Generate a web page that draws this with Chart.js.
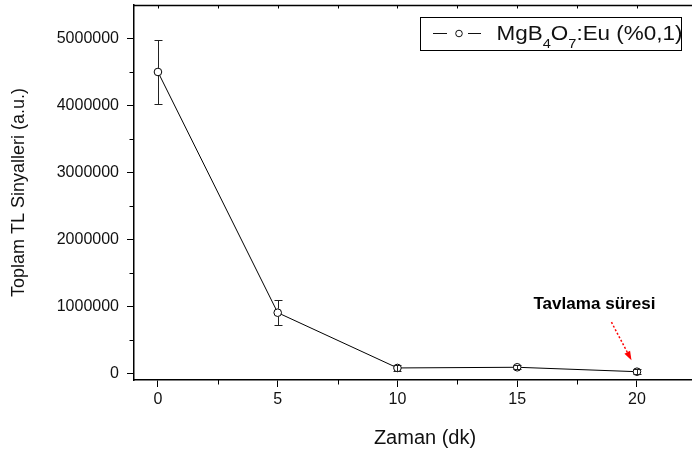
<!DOCTYPE html>
<html>
<head>
<meta charset="utf-8">
<script src="https://cdn.jsdelivr.net/npm/chart.js@4.4.1/dist/chart.umd.min.js"></script>
<style>
  html, body { margin: 0; padding: 0; background: #fff; overflow: hidden; }
  #wrap { width: 692px; height: 452px; overflow: hidden; position: relative; }
  canvas { display: block; }
</style>
</head>
<body>
<div id="wrap"><canvas id="chart" width="721" height="452"></canvas></div>
<script>
// Annealing time (min) vs. total TL signal
const times      = [0, 5, 10, 15, 20];
const signal     = [4500000, 905000, 80000, 90000, 24000];
const signalErr  = [475000, 188000, 40000, 30000, 35000];

const xTicks      = [0, 5, 10, 15, 20];
const xMinorTicks = [2.5, 7.5, 12.5, 17.5, 22.5];
const yTicks      = [0, 1000000, 2000000, 3000000, 4000000, 5000000];
const yMinorTicks = [500000, 1500000, 2500000, 3500000, 4500000];

const seriesLabelParts = [
  { text: 'MgB' }, { text: '4', sub: true }, { text: 'O' }, { text: '7', sub: true }, { text: ':Eu (%0,1)' }
];
const noteText = 'Tavlama süresi';

const FONT = '"Liberation Sans", Arial, Helvetica, sans-serif';
const INK = '#111';

// Minor ticks, top frame line and its inward ticks
const framePlugin = {
  id: 'frame',
  afterDraw(chart) {
    const { ctx, chartArea: a, scales: { x, y } } = chart;
    ctx.save();
    ctx.strokeStyle = '#000';
    ctx.lineWidth = 1;
    ctx.beginPath();
    xMinorTicks.forEach(v => {
      const px = Math.round(x.getPixelForValue(v)) + 0.5;
      ctx.moveTo(px, a.bottom); ctx.lineTo(px, a.bottom + 4.5);
    });
    yMinorTicks.forEach(v => {
      const py = Math.round(y.getPixelForValue(v)) + 0.5;
      ctx.moveTo(a.left - 4.5, py); ctx.lineTo(a.left, py);
    });
    xTicks.concat(xMinorTicks).forEach(v => {
      const px = Math.round(x.getPixelForValue(v)) + 0.5;
      ctx.moveTo(px, a.top); ctx.lineTo(px, a.top + 3.5);
    });
    ctx.stroke();
    ctx.lineWidth = 1.5;
    ctx.beginPath();
    ctx.moveTo(a.left - 0.75, a.top + 0.5);
    ctx.lineTo(a.right, a.top + 0.5);
    ctx.stroke();
    ctx.restore();
  }
};

// Vertical error bars with caps
const errorBarPlugin = {
  id: 'errorBars',
  afterDatasetsDraw(chart) {
    const { ctx, scales: { x, y } } = chart;
    const r = 4, cap = 4;
    ctx.save();
    ctx.strokeStyle = '#222';
    ctx.lineWidth = 1;
    times.forEach((t, i) => {
      const px = Math.round(x.getPixelForValue(t)) + 0.5;
      const pc = y.getPixelForValue(signal[i]);
      const pTop = Math.round(y.getPixelForValue(signal[i] + signalErr[i])) + 0.5;
      const pBot = Math.round(y.getPixelForValue(signal[i] - signalErr[i])) + 0.5;
      ctx.beginPath();
      if (pc - pTop > r) {
        ctx.moveTo(px, pc - r); ctx.lineTo(px, pTop);
        ctx.moveTo(px, pc + r); ctx.lineTo(px, pBot);
      } else {
        ctx.moveTo(px, pTop); ctx.lineTo(px, pBot);
      }
      ctx.moveTo(px - cap, pTop); ctx.lineTo(px + cap, pTop);
      ctx.moveTo(px - cap, pBot); ctx.lineTo(px + cap, pBot);
      ctx.stroke();
    });
    ctx.restore();
  }
};

// Draws a run of text pieces (with subscripts), stretched to a given width
function drawPieces(ctx, pieces, x0, width, baseline, size, subSize, weight) {
  const fontOf = p => `${weight} ${p.sub ? subSize : size}px ${FONT}`;
  let natural = 0;
  pieces.forEach(p => { ctx.font = fontOf(p); natural += ctx.measureText(p.text).width; });
  const k = width / natural;
  ctx.save();
  ctx.translate(x0, 0);
  ctx.scale(k, 1);
  let cx = 0;
  pieces.forEach(p => {
    ctx.font = fontOf(p);
    ctx.fillText(p.text, cx, baseline + (p.sub ? size * 0.42 : 0));
    cx += ctx.measureText(p.text).width;
  });
  ctx.restore();
}

// Boxed legend in the upper right
const legendPlugin = {
  id: 'boxLegend',
  afterDraw(chart) {
    const { ctx } = chart;
    const box = { l: 420.5, t: 17.5, w: 261, h: 33 };
    ctx.save();
    ctx.fillStyle = '#fff';
    ctx.fillRect(box.l, box.t, box.w, box.h);
    ctx.strokeStyle = '#000';
    ctx.lineWidth = 1;
    ctx.strokeRect(box.l, box.t, box.w, box.h);
    const my = box.t + 16;
    ctx.strokeStyle = '#111';
    ctx.beginPath();
    ctx.moveTo(433, my); ctx.lineTo(447, my);
    ctx.moveTo(468, my); ctx.lineTo(481, my);
    ctx.stroke();
    ctx.beginPath();
    ctx.arc(459, my, 3.3, 0, Math.PI * 2);
    ctx.fillStyle = '#fff'; ctx.fill();
    ctx.stroke();
    ctx.fillStyle = INK;
    ctx.textBaseline = 'alphabetic';
    drawPieces(ctx, seriesLabelParts, 496.5, 186, box.t + 22, 20, 13, 'normal');
    ctx.restore();
  }
};

// Bold note with a dotted red arrow pointing to the last point
const notePlugin = {
  id: 'note',
  afterDraw(chart) {
    const { ctx, scales: { x, y } } = chart;
    const last = times.length - 1;
    const ptX = x.getPixelForValue(times[last]);
    const ptY = y.getPixelForValue(signal[last]);
    ctx.save();
    ctx.fillStyle = '#000';
    ctx.textBaseline = 'alphabetic';
    drawPieces(ctx, [{ text: noteText }], ptX - 103.5, 122, ptY - 62.5, 16.5, 16.5, 'bold');
    const tip = { x: ptX - 5.5, y: ptY - 11.5 };
    const tail = { x: tip.x - 20, y: tip.y - 38 };
    const len = Math.hypot(tip.x - tail.x, tip.y - tail.y);
    const ux = (tip.x - tail.x) / len, uy = (tip.y - tail.y) / len;
    const head = 9, half = 3.2;
    const bx = tip.x - ux * head, by = tip.y - uy * head;
    ctx.strokeStyle = '#ff0000';
    ctx.fillStyle = '#ff0000';
    ctx.lineWidth = 1.5;
    ctx.setLineDash([2, 2]);
    ctx.beginPath();
    ctx.moveTo(tail.x, tail.y); ctx.lineTo(bx, by);
    ctx.stroke();
    ctx.setLineDash([]);
    ctx.beginPath();
    ctx.moveTo(tip.x, tip.y);
    ctx.lineTo(bx - uy * half, by + ux * half);
    ctx.lineTo(bx + uy * half, by - ux * half);
    ctx.closePath();
    ctx.fill();
    ctx.restore();
  }
};

// Keep the plot frame fixed: no extra room reserved for edge labels
function noEdgePadding(s) {
  s.paddingTop = 0; s.paddingBottom = 0; s.paddingLeft = 0; s.paddingRight = 0;
}

new Chart(document.getElementById('chart'), {
  type: 'line',
  data: {
    datasets: [{
      label: 'MgB₄O₇:Eu (%0,1)',
      data: times.map((t, i) => ({ x: t, y: signal[i] })),
      borderColor: '#000',
      borderWidth: 1,
      tension: 0,
      pointRadius: 3.8,
      pointBorderWidth: 1,
      pointBackgroundColor: '#fff',
      pointBorderColor: '#000'
    }]
  },
  options: {
    responsive: false,
    animation: false,
    devicePixelRatio: 1,
    layout: { padding: { top: 5, right: 1, left: 0, bottom: 0 } },
    plugins: { legend: { display: false }, tooltip: { enabled: false } },
    scales: {
      x: {
        type: 'linear',
        min: -1,
        max: 23.3,
        afterBuildTicks: s => { s.ticks = xTicks.map(v => ({ value: v })); },
        afterFit: s => { s.height = 72; noEdgePadding(s); },
        grid: { drawOnChartArea: false, drawTicks: true, tickLength: 7, tickColor: '#000', tickWidth: 1 },
        border: { display: true, color: '#000', width: 1.5 },
        ticks: { font: { family: FONT, size: 16 }, color: INK, padding: 3, maxRotation: 0, autoSkip: false },
        title: { display: true, text: 'Zaman (dk)', font: { family: FONT, size: 20 }, color: INK, padding: { top: 0, bottom: 2 } }
      },
      y: {
        type: 'linear',
        min: -100000,
        max: 5500000,
        afterBuildTicks: s => { s.ticks = yTicks.map(v => ({ value: v })); },
        afterFit: s => { s.width = 134; noEdgePadding(s); },
        grid: { drawOnChartArea: false, drawTicks: true, tickLength: 7, tickColor: '#000', tickWidth: 1 },
        border: { display: true, color: '#000', width: 1.5 },
        ticks: { font: { family: FONT, size: 16 }, color: INK, padding: 8, callback: v => String(v), autoSkip: false },
        title: { display: true, text: 'Toplam TL Sinyalleri (a.u.)', font: { family: FONT, size: 18 }, color: INK, padding: { top: 8, bottom: 0 } }
      }
    }
  },
  plugins: [framePlugin, errorBarPlugin, legendPlugin, notePlugin]
});
</script>
</body>
</html>
